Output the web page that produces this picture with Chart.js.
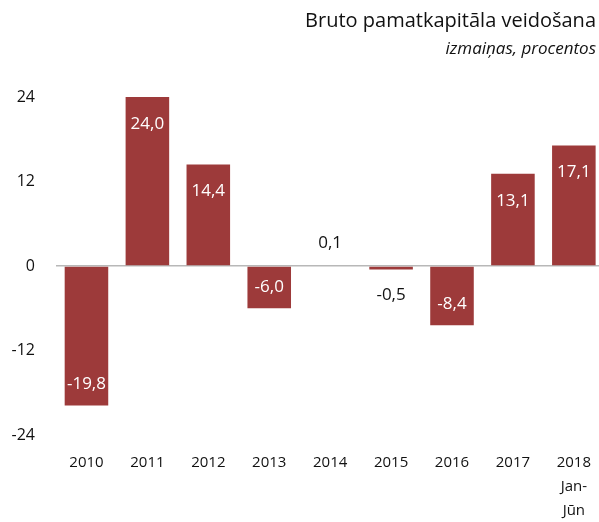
<!DOCTYPE html>
<html>
<head>
<meta charset="utf-8">
<script src="https://cdn.jsdelivr.net/npm/chart.js@4"></script>
<style>
  html, body { margin: 0; padding: 0; background: #fff; overflow: hidden; }
  #wrap { position: relative; width: 599px; height: 522px; overflow: hidden; }
  #grafico { position: absolute; left: 0; top: 0; }
</style>
</head>
<body>
<div id="wrap">
  <canvas id="grafico" width="607" height="522"></canvas>
</div>
<script>
// dati
const gadi = ["2010", "2011", "2012", "2013", "2014", "2015", "2016", "2017", ["2018", "Jan-", "Jūn"]];
const izmainas = [-19.8, 24.0, 14.4, -6.0, 0.1, -0.5, -8.4, 13.1, 17.1];
const asisTicks = [-24, -12, 0, 12, 24];
const virsraksts = "Bruto pamatkapitāla veidošana";
const apaksvirsraksts = "izmaiņas, procentos";

const fonts = "'Open Sans', sans-serif";
const krasa = "#9d3a3a";

// virsraksts augšā labajā pusē
const virsrakstsPlugin = {
  id: "virsraksts",
  afterDraw(chart) {
    const ctx = chart.ctx;
    ctx.save();
    ctx.fillStyle = "#111111";
    ctx.textAlign = "right";
    ctx.textBaseline = "alphabetic";
    ctx.font = "20px " + fonts;
    ctx.fillText(virsraksts, 596, 27);
    ctx.font = "italic 17px " + fonts;
    ctx.fillText(apaksvirsraksts, 596, 54);
    ctx.restore();
  },
};

// vērtības uz stabiņiem
const vertibasPlugin = {
  id: "vertibas",
  afterDatasetsDraw(chart) {
    const ctx = chart.ctx;
    const meta = chart.getDatasetMeta(0);
    ctx.save();
    ctx.font = "17px " + fonts;
    ctx.textAlign = "center";
    ctx.textBaseline = "middle";
    meta.data.forEach(function (bar, i) {
      const v = izmainas[i];
      const teksts = v.toFixed(1).replace(".", ",");
      let y;
      if (Math.abs(v) >= 1) {
        ctx.fillStyle = "#ffffff";
        y = v > 0 ? bar.y + 27 : bar.y - 21;
      } else {
        ctx.fillStyle = "#111111";
        y = v > 0 ? bar.y - 22 : bar.y + 26;
      }
      ctx.fillText(teksts, bar.x, y);
    });
    ctx.restore();
  },
};

const grf = document.getElementById("grafico");

new Chart(grf, {
  type: "bar",
  data: {
    labels: gadi,
    datasets: [
      {
        data: izmainas,
        backgroundColor: krasa,
        borderWidth: 0,
        categoryPercentage: 1,
        barPercentage: 0.715,
      },
    ],
  },
  options: {
    responsive: false,
    animation: false,
    layout: { padding: { top: 97, left: 0, right: 0, bottom: 0 } },
    plugins: {
      legend: { display: false },
      title: { display: false },
      tooltip: { enabled: false },
    },
    scales: {
      x: {
        grid: { display: false, drawTicks: false },
        border: { display: false },
        ticks: {
          color: "#111111",
          font: { family: fonts, size: 15, lineHeight: 1.6 },
          padding: 16,
          maxRotation: 0,
          autoSkip: false,
        },
        afterFit: function (scale) {
          scale.height = 87;
        },
      },
      y: {
        min: -24,
        max: 24,
        afterBuildTicks: function (scale) {
          scale.ticks = asisTicks.map(function (v) { return { value: v }; });
        },
        grid: {
          drawTicks: false,
          lineWidth: 1.5,
          color: function (c) {
            return c.tick && c.tick.value === 0 ? "#b8b8b8" : "rgba(0,0,0,0)";
          },
        },
        border: { display: false },
        ticks: {
          color: "#111111",
          font: { family: fonts, size: 16 },
          padding: 21,
        },
        afterFit: function (scale) {
          scale.width = 56;
        },
      },
    },
  },
  plugins: [virsrakstsPlugin, vertibasPlugin],
});
</script>
</body>
</html>
